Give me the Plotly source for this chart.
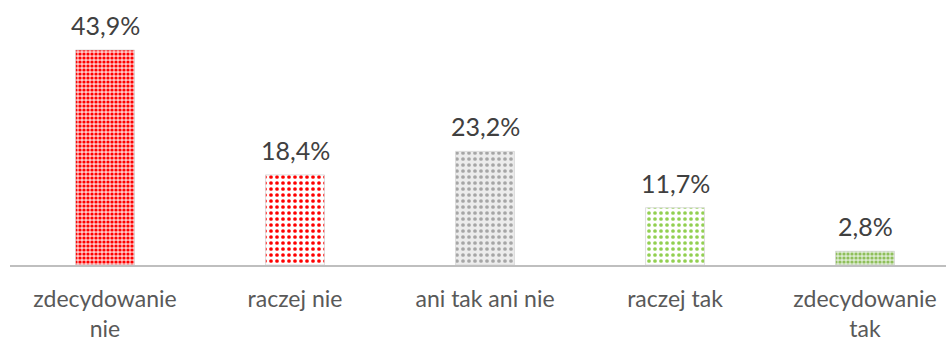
import plotly.graph_objects as go

categories = ["zdecydowanie<br>nie", "raczej nie", "ani tak ani nie", "raczej tak", "zdecydowanie<br>tak"]
values = [43.9, 18.4, 23.2, 11.7, 2.8]
value_labels = ["43,9%", "18,4%", "23,2%", "11,7%", "2,8%"]

fg_colors = ["#ff0000", "#ff0000", "#a6a6a6", "#92d050", "#8fbf5a"]
bg_colors = ["#ffc8c8", "#ffffff", "#ececec", "#ffffff", "#dcebd0"]
pat_sizes = [4, 6, 6, 6, 4]
pat_solid = [0.5, 0.3, 0.3, 0.3, 0.5]

x = list(range(len(categories)))

fig = go.Figure()
for i in x:
    fig.add_trace(go.Bar(
        x=[i],
        y=[values[i]],
        width=0.31,
        marker=dict(
            color=bg_colors[i],
            line=dict(color="rgba(210,210,210,0.7)", width=1),
            pattern=dict(
                shape=".",
                fgcolor=fg_colors[i],
                bgcolor=bg_colors[i],
                size=pat_sizes[i],
                solidity=pat_solid[i],
                fillmode="replace",
            ),
        ),
        hoverinfo="skip",
    ))

for xi, v, t in zip(x, values, value_labels):
    fig.add_annotation(
        x=xi, y=v, text=t, showarrow=False,
        yanchor="bottom", yshift=8,
        font=dict(family="Lato, Carlito, sans-serif", size=25, color="#404040"),
    )

fig.update_layout(
    width=946,
    height=344,
    margin=dict(l=10, r=0, t=0, b=79),
    paper_bgcolor="white",
    plot_bgcolor="white",
    showlegend=False,
    barmode="overlay",
    font=dict(family="Lato, Carlito, sans-serif", size=23, color="#595959"),
)
fig.update_xaxes(
    range=[-0.5, 4.5 - 14 / 190],
    tickvals=x,
    ticktext=categories,
    showline=True,
    linecolor="#bfbfbf",
    linewidth=2,
    ticks="",
    ticklabelstandoff=12,
    automargin=False,
    showgrid=False,
    zeroline=False,
    tickfont=dict(size=23, color="#595959"),
)
fig.update_yaxes(
    range=[0, 265 / (215 / 43.9)],
    visible=False,
    automargin=False,
    showgrid=False,
    zeroline=False,
)

fig.write_html("out.html")
